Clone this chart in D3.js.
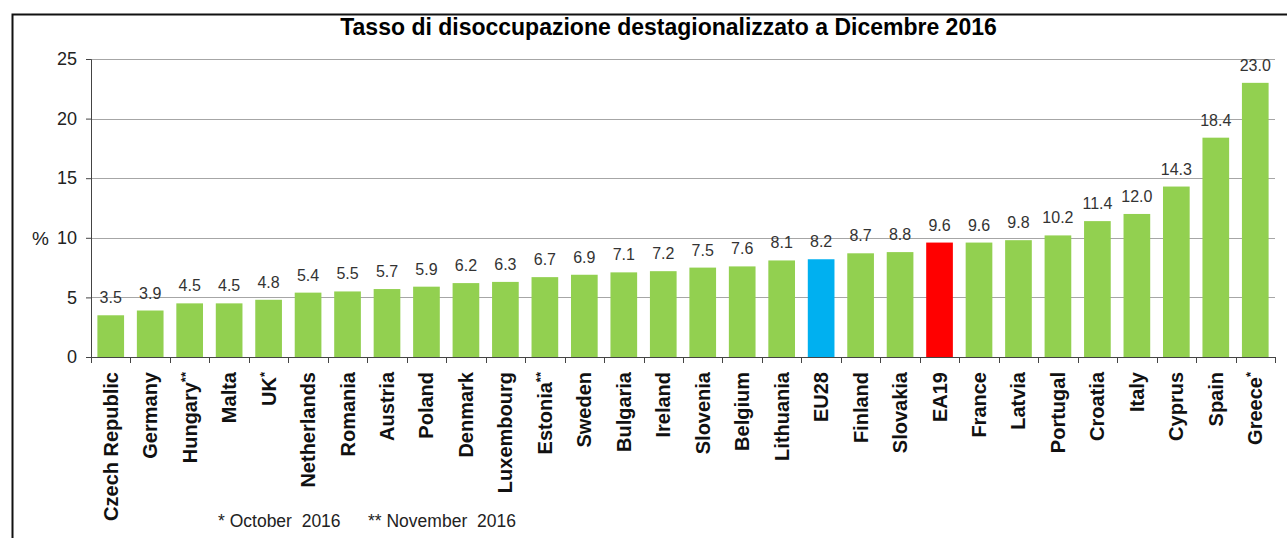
<!DOCTYPE html>
<html><head><meta charset="utf-8">
<script src="https://cdn.jsdelivr.net/npm/d3@7"></script>
<style>
html,body{margin:0;padding:0;background:#fff;}
svg{display:block;font-family:"Liberation Sans",Arial,sans-serif;}
</style></head>
<body>
<script>
const categories = ["Czech Republic","Germany","Hungary","Malta","UK","Netherlands","Romania","Austria","Poland","Denmark","Luxembourg","Estonia","Sweden","Bulgaria","Ireland","Slovenia","Belgium","Lithuania","EU28","Finland","Slovakia","EA19","France","Latvia","Portugal","Croatia","Italy","Cyprus","Spain","Greece"];
const marks = ["","","**","","*","","","","","","","**","","","","","","","","","","","","","","","","","","*"];
const values = [3.5,3.9,4.5,4.5,4.8,5.4,5.5,5.7,5.9,6.2,6.3,6.7,6.9,7.1,7.2,7.5,7.6,8.1,8.2,8.7,8.8,9.6,9.6,9.8,10.2,11.4,12.0,14.3,18.4,23.0];
const yTicks = [0,5,10,15,20,25];
const title = "Tasso di disoccupazione destagionalizzato a Dicembre 2016";
const footnotes = ["* October  2016", "** November  2016"];

const W = 1287, H = 538;
const svg = d3.select("body").append("svg").attr("width", W).attr("height", H);

// frame
svg.append("path").attr("d", `M12.5,${H+2} L12.5,14.5 L${W+2},14.5`)
  .attr("fill","none").attr("stroke","#111").attr("stroke-width",2);

const x = d3.scaleBand().domain(categories).range([91, 1275]).paddingInner(0.324).paddingOuter(0.162);
const y = d3.scaleLinear().domain([0, 25]).range([357, 59]);

// gridlines
svg.append("g").selectAll("line").data(yTicks.filter(d => d > 0)).join("line")
  .attr("x1", 91).attr("x2", 1275)
  .attr("y1", d => Math.round(y(d)) + 0.5).attr("y2", d => Math.round(y(d)) + 0.5)
  .attr("stroke", "#a6a6a6").attr("stroke-width", 1);

// bars
const colorFor = c => c === "EU28" ? "#00B0F0" : (c === "EA19" ? "#FF0000" : "#92D050");
svg.append("g").selectAll("rect").data(categories).join("rect")
  .attr("x", c => x(c)).attr("width", x.bandwidth())
  .attr("y", (c, i) => y(values[i])).attr("height", (c, i) => y(0) - y(values[i]))
  .attr("fill", colorFor);

// value labels
svg.append("g").selectAll("text").data(categories).join("text")
  .attr("x", c => x(c) + x.bandwidth() / 2)
  .attr("y", (c, i) => y(values[i]) - 12)
  .attr("text-anchor", "middle")
  .attr("font-size", 16).attr("fill", "#333")
  .text((c, i) => values[i].toFixed(1));

// y axis
const yAxis = svg.append("g").attr("transform", "translate(91,0)")
  .call(d3.axisLeft(y).tickValues(yTicks).tickSize(5).tickPadding(9).tickFormat(d3.format("d")));
yAxis.select(".domain").attr("stroke", "#444").attr("d", `M-5,${y(25)+0.5}H0.5V${y(0)+0.5}H-5`);
yAxis.selectAll(".tick line").attr("stroke", "#444");
yAxis.selectAll(".tick text").attr("font-size", 18).attr("fill", "#222")
  .attr("font-family", "Liberation Sans, Arial, sans-serif");

svg.append("text").attr("x", 32).attr("y", y(10) + 7).attr("font-size", 19).attr("fill", "#222").text("%");

// x axis
const xAxisG = svg.append("g");
xAxisG.append("line").attr("x1", 86).attr("x2", 1275).attr("y1", 357.5).attr("y2", 357.5).attr("stroke", "#444");
const edges = categories.map(c => x(c) - x.step() * x.paddingInner() / 2).concat([1275]);
xAxisG.selectAll("line.t").data(edges).join("line").attr("class", "t")
  .attr("x1", d => Math.round(d) + 0.5).attr("x2", d => Math.round(d) + 0.5)
  .attr("y1", 357).attr("y2", 363).attr("stroke", "#444");

const lab = svg.append("g").selectAll("text").data(categories).join("text")
  .attr("transform", c => `translate(${x(c) + x.bandwidth() / 2 + 7},372) rotate(-90)`)
  .attr("text-anchor", "end")
  .attr("font-size", 20).attr("font-weight", "bold").attr("fill", "#111");
lab.each(function(c, i) {
  const t = d3.select(this);
  t.append("tspan").text(c);
  if (marks[i]) t.append("tspan").attr("font-size", 13).attr("dy", -7).text(marks[i]);
});

// title
svg.append("text").attr("x", 668.5).attr("y", 35).attr("text-anchor", "middle")
  .attr("font-size", 23).attr("font-weight", "bold").attr("fill", "#000").text(title);

// footnotes
svg.append("text").attr("x", 218).attr("y", 527).attr("font-size", 17.5).attr("fill", "#222")
  .attr("xml:space", "preserve").style("white-space", "pre").text(footnotes[0]);
svg.append("text").attr("x", 368).attr("y", 527).attr("font-size", 17.5).attr("fill", "#222")
  .attr("xml:space", "preserve").style("white-space", "pre").text(footnotes[1]);
</script>
</body></html>
